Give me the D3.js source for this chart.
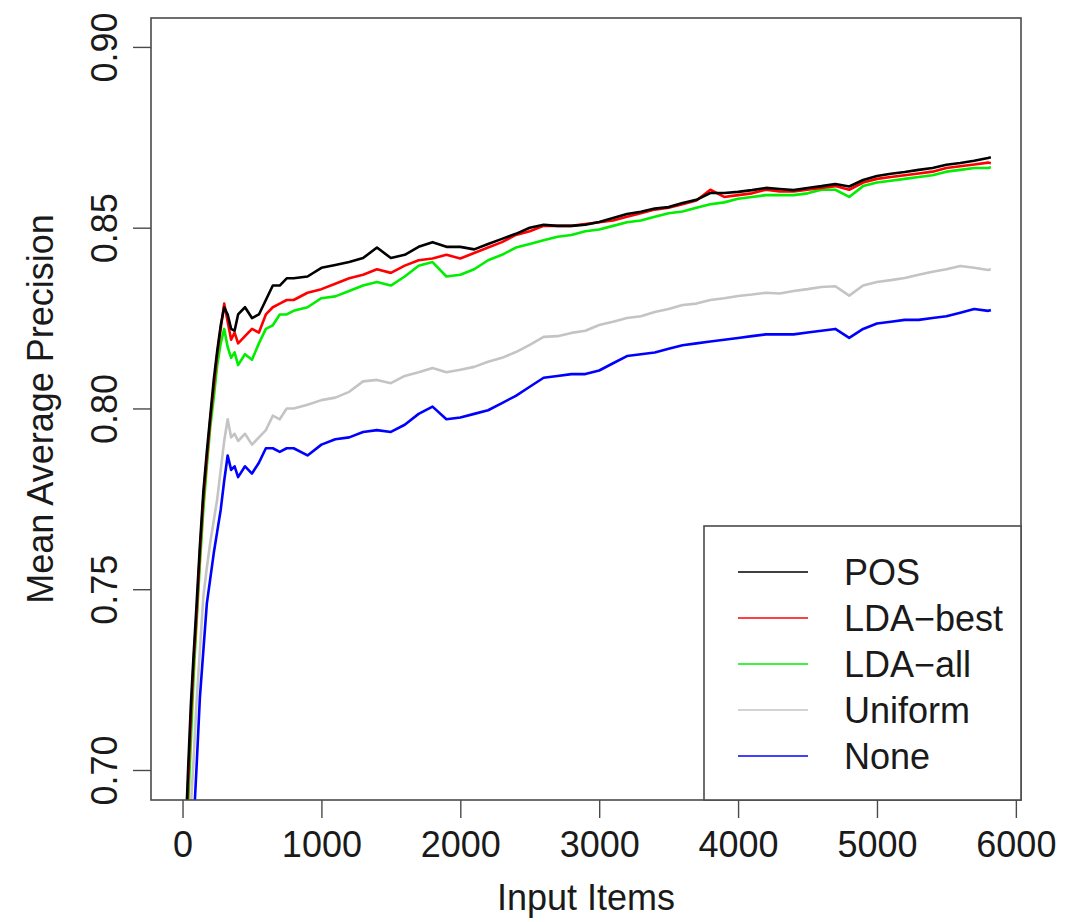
<!DOCTYPE html>
<html>
<head>
<meta charset="utf-8">
<script src="https://cdn.jsdelivr.net/npm/d3@7"></script>
<style>
  html, body { margin: 0; padding: 0; background: #fff; }
  svg { display: block; }
  text { font-family: "Liberation Sans", Arial, Helvetica, sans-serif; fill: #1a1a1a; }
</style>
</head>
<body>
<svg id="chart" width="1074" height="922"></svg>
<script>
// ---------------- data ----------------
const items = [20,40,60,80,100,125,150,175,200,225,250,275,300,325,350,375,400,450,500,550,600,650,700,750,800,900,
  1000,1100,1200,1300,1400,1500,1600,1700,1800,1900,2000,2100,2200,2300,2400,2500,2600,2700,2800,2900,
  3000,3100,3200,3300,3400,3500,3600,3700,3800,3900,4000,4100,4200,4300,4400,4500,4600,4700,4800,4900,
  5000,5100,5200,5300,5400,5500,5600,5700,5800,5820];

const pos = [0.680,0.700,0.718,0.732,0.745,0.762,0.777,0.788,0.798,0.808,0.816,0.823,0.828,0.826,0.822,0.8215,0.826,0.828,0.825,0.826,0.830,0.834,0.834,0.836,0.836,0.8365,
  0.8389,0.8397,0.8405,0.8416,0.8445,0.8416,0.8425,0.8447,0.846,0.8447,0.8447,0.844,0.8455,0.8469,0.8483,0.850,0.8508,0.8505,0.8505,0.8508,
  0.8516,0.8527,0.8538,0.8544,0.8553,0.8557,0.8568,0.8577,0.8596,0.8596,0.8599,0.8604,0.861,0.8607,0.8604,0.861,0.8615,0.8621,0.8614,0.8632,
  0.8643,0.8649,0.8654,0.866,0.8665,0.8674,0.8679,0.8685,0.8693,0.8695];

const ldaBest = [0.675,0.696,0.714,0.730,0.742,0.760,0.775,0.786,0.797,0.806,0.815,0.822,0.829,0.824,0.819,0.821,0.818,0.820,0.822,0.821,0.826,0.828,0.829,0.830,0.830,0.832,
  0.833,0.8345,0.836,0.837,0.8385,0.8375,0.8395,0.841,0.8415,0.8425,0.8415,0.843,0.8445,0.846,0.848,0.849,0.8505,0.8505,0.8505,0.851,
  0.8515,0.852,0.853,0.854,0.855,0.8555,0.8565,0.8575,0.8605,0.8585,0.859,0.8595,0.8605,0.860,0.860,0.8605,0.861,0.8615,0.8605,0.8625,
  0.8635,0.864,0.8645,0.865,0.8655,0.8665,0.867,0.8675,0.868,0.8678];

const ldaAll = [0.670,0.690,0.708,0.726,0.740,0.757,0.772,0.784,0.795,0.803,0.812,0.818,0.822,0.817,0.814,0.8155,0.812,0.815,0.8135,0.818,0.822,0.823,0.826,0.826,0.827,0.828,
  0.8305,0.831,0.8325,0.834,0.835,0.834,0.8365,0.8395,0.8405,0.8365,0.837,0.8385,0.841,0.8425,0.8445,0.8455,0.8465,0.8475,0.848,0.849,
  0.8495,0.8505,0.8515,0.852,0.853,0.854,0.8545,0.8555,0.8565,0.857,0.858,0.8585,0.859,0.859,0.859,0.8595,0.8605,0.8605,0.8585,0.8615,
  0.8625,0.863,0.8635,0.864,0.8645,0.8655,0.866,0.8665,0.8665,0.8667];

const uniform = [0.660,0.675,0.690,0.703,0.718,0.733,0.748,0.756,0.763,0.769,0.775,0.783,0.791,0.797,0.792,0.793,0.791,0.793,0.790,0.792,0.794,0.798,0.797,0.800,0.800,0.801,
  0.8023,0.8030,0.8046,0.8075,0.8079,0.8070,0.809,0.8100,0.8112,0.8100,0.8107,0.8115,0.8129,0.8140,0.8156,0.8176,0.8198,0.8200,0.8209,0.8215,
  0.8231,0.8240,0.825,0.8255,0.8267,0.8275,0.8286,0.8290,0.830,0.8305,0.8311,0.8315,0.832,0.8318,0.8325,0.8330,0.8336,0.8338,0.8312,0.8340,
  0.835,0.8355,0.8361,0.8370,0.8378,0.8385,0.8394,0.8389,0.8383,0.8385];

const none = [0.650,0.662,0.675,0.685,0.700,0.720,0.733,0.746,0.753,0.760,0.766,0.772,0.780,0.787,0.783,0.784,0.781,0.784,0.782,0.785,0.789,0.789,0.788,0.789,0.789,0.787,
  0.790,0.7915,0.792,0.7935,0.794,0.7935,0.7955,0.7985,0.8005,0.797,0.7975,0.7985,0.7995,0.8015,0.8035,0.806,0.8085,0.809,0.8095,0.8095,
  0.8105,0.8125,0.8145,0.815,0.8155,0.8165,0.8175,0.818,0.8185,0.819,0.8195,0.820,0.8205,0.8205,0.8205,0.821,0.8215,0.822,0.8195,0.822,
  0.8235,0.824,0.8245,0.8245,0.825,0.8255,0.8265,0.8275,0.827,0.8272];

const seriesNames = ["POS", "LDA\u2212best", "LDA\u2212all", "Uniform", "None"];
const seriesColors = ["#000000", "#ff0000", "#00ee00", "#c4c4c4", "#0000ff"];
const seriesValues = [pos, ldaBest, ldaAll, uniform, none];

const xTicks = [0,1000,2000,3000,4000,5000,6000];
const yTicks = [0.70,0.75,0.80,0.85,0.90];
const yTickLabels = ["0.70","0.75","0.80","0.85","0.90"];

const xTitle = "Input Items";
const yTitle = "Mean Average Precision";

// ---------------- layout ----------------
const plot = { left: 151, right: 1021, top: 18, bottom: 800 };
const svg = d3.select("#chart");

const x = d3.scaleLinear().domain([-227, 6037]).range([plot.left, plot.right]);
const y = d3.scaleLinear().domain([0.6917, 0.908]).range([plot.bottom, plot.top]);

svg.append("defs").append("clipPath").attr("id", "clip")
  .append("rect")
  .attr("x", plot.left).attr("y", plot.top)
  .attr("width", plot.right - plot.left).attr("height", plot.bottom - plot.top);

// lines
const line = d3.line().x((d, i) => x(items[i])).y(d => y(d));
const drawOrder = [3, 4, 2, 1, 0];
const lineG = svg.append("g").attr("clip-path", "url(#clip)");
drawOrder.forEach(k => {
  lineG.append("path")
    .datum(seriesValues[k])
    .attr("fill", "none")
    .attr("stroke", seriesColors[k])
    .attr("stroke-width", 2.6)
    .attr("stroke-linejoin", "round")
    .attr("d", line);
});

// box
svg.append("rect")
  .attr("x", plot.left).attr("y", plot.top)
  .attr("width", plot.right - plot.left).attr("height", plot.bottom - plot.top)
  .attr("fill", "none").attr("stroke", "#4a4a4a").attr("stroke-width", 1.6);

// x axis
const xAxis = svg.append("g")
  .attr("transform", `translate(0,${plot.bottom})`)
  .call(d3.axisBottom(x).tickValues(xTicks).tickSize(18).tickFormat(d3.format("d")));
xAxis.select(".domain").remove();
xAxis.selectAll(".tick line").attr("stroke", "#4a4a4a").attr("stroke-width", 1.4);
xAxis.selectAll(".tick text")
  .attr("y", 57).attr("dy", 0)
  .style("font-size", "36px")
  .style("font-family", "'Liberation Sans', Arial, sans-serif")
  .attr("fill", "#1a1a1a");

// y axis
const yAxis = svg.append("g")
  .attr("transform", `translate(${plot.left},0)`)
  .call(d3.axisLeft(y).tickValues(yTicks).tickSize(18).tickFormat((d, i) => yTickLabels[i]));
yAxis.select(".domain").remove();
yAxis.selectAll(".tick line").attr("stroke", "#4a4a4a").attr("stroke-width", 1.4);
yAxis.selectAll(".tick text")
  .attr("transform", "rotate(-90)")
  .attr("x", 0).attr("y", -34).attr("dy", 0)
  .attr("text-anchor", "middle")
  .style("font-size", "36px")
  .style("font-family", "'Liberation Sans', Arial, sans-serif")
  .attr("fill", "#1a1a1a");

// axis titles
svg.append("text")
  .attr("x", (plot.left + plot.right) / 2).attr("y", 910)
  .attr("text-anchor", "middle")
  .style("font-size", "36px")
  .text(xTitle);

svg.append("text")
  .attr("transform", `translate(53,${(plot.top + plot.bottom) / 2}) rotate(-90)`)
  .attr("text-anchor", "middle")
  .style("font-size", "36px")
  .text(yTitle);

// legend
const legend = { left: 704, top: 526, right: 1021, bottom: 800, firstRow: 572, rowStep: 46 };
svg.append("rect")
  .attr("x", legend.left).attr("y", legend.top)
  .attr("width", legend.right - legend.left).attr("height", legend.bottom - legend.top)
  .attr("fill", "#fff").attr("stroke", "#4a4a4a").attr("stroke-width", 1.6);

seriesNames.forEach((name, i) => {
  const ry = legend.firstRow + i * legend.rowStep;
  svg.append("line")
    .attr("x1", 738).attr("x2", 808).attr("y1", ry).attr("y2", ry)
    .attr("stroke", seriesColors[i]).attr("stroke-width", 1.4);
  svg.append("text")
    .attr("x", 844).attr("y", ry).attr("dy", "0.36em")
    .style("font-size", "36px")
    .text(name);
});
</script>
</body>
</html>
